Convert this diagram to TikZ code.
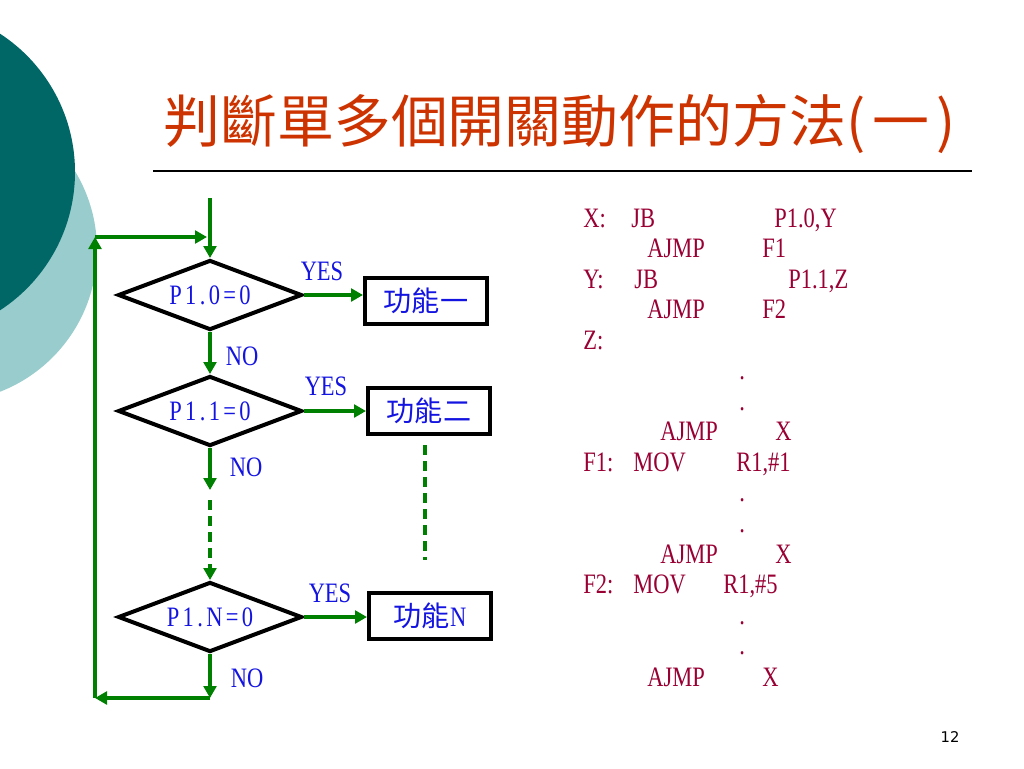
\documentclass[tikz,border=0pt]{standalone}
\usepackage{fontspec}
\setmainfont{Liberation Serif}
\newfontfamily\cjk{Noto Sans CJK TC}
\newfontfamily\codefont[FakeStretch=0.8]{Liberation Serif}
\newfontfamily\condfont[FakeStretch=0.8, LetterSpace=12]{Liberation Serif}
\newfontfamily\pagefont{DejaVu Sans}
\usetikzlibrary{shapes.geometric, arrows.meta}

\definecolor{darkteal}{RGB}{0,102,102}
\definecolor{lightteal}{RGB}{153,204,204}
\definecolor{titlered}{RGB}{204,51,0}
\definecolor{flowgreen}{RGB}{0,128,0}
\definecolor{textblue}{RGB}{20,20,225}
\definecolor{codered}{RGB}{153,0,51}

\tikzset{
    decision/.style={diamond, draw=black, line width=1mm, aspect=2.7, inner sep=0pt,
        minimum width=46mm, minimum height=17.5mm, text=textblue,
        font=\condfont\fontsize{20}{24}\selectfont},
    funbox/.style={draw=black, line width=1mm, inner sep=0pt, minimum width=30.5mm,
        minimum height=11.5mm, text=textblue, font=\cjk\fontsize{20}{24}\selectfont},
    flow/.style={draw=flowgreen, line width=1mm, -{Triangle[length=3mm, width=3.2mm]}},
    flowdash/.style={draw=flowgreen, line width=1mm, dash pattern=on 2.5mm off 1.5mm},
    answer/.style={text=textblue, inner sep=0pt, font=\codefont\fontsize{20}{24}\selectfont},
    code/.style={anchor=base west, inner sep=0pt, text=codered,
        font=\codefont\fontsize{20}{24}\selectfont}
}

\begin{document}
\begin{tikzpicture}[x=0.25mm, y=-0.25mm]
    \useasboundingbox (0,0) rectangle (1024,768);
    % background circles
    \begin{scope}
        \clip (0,0) rectangle (1024,768);
        \fill[lightteal] (-55,250) circle (152);
        \fill[darkteal] (-90,172) circle (165);
    \end{scope}

    % title
    \node[anchor=west, inner sep=0pt, text=titlered, font=\cjk\fontsize{40.5}{44}\selectfont]
        (title) at (163,124) {判斷單多個開關動作的方法(\kern5pt 一\kern5pt)};
    \draw[line width=0.4mm] (153,171) -- (972,171);

    % flowchart
    \node[decision] (dec1) at (210,295) {P1.0=0};
    \node[decision] (dec2) at (210,411) {P1.1=0};
    \node[decision] (decn) at (210,617) {P1.N=0};
    \node[funbox] (fun1) at (426,301) {功能一};
    \node[funbox] (fun2) at (429,411) {功能二};
    \node[funbox] (funn) at (430,616) {功能{\codefont N}};

    \coordinate (start) at (210,198);
    \coordinate (loopin) at (207,237);
    \coordinate (topleft) at (95,237);
    \coordinate (botleft) at (95,698);
    \coordinate (bot) at (210,698);
    \coordinate (cont) at (210,490);
    \coordinate (gapin) at (210,500);
    \coordinate (moretop) at (425,445);
    \coordinate (morebot) at (425,560);

    \draw[flow] (start) -- (dec1.north);
    \draw[flow] (dec1.south) -- (dec2.north);
    \draw[flow] (dec2.south) -- (cont);
    \draw[flowdash, -{Triangle[length=3mm, width=3.2mm]}] (gapin) -- (decn.north);
    \draw[flowdash] (moretop) -- (morebot);
    \draw[flow] (decn.south) -- (bot);
    \draw[flow] (bot) -- (botleft);
    \draw[flow] (botleft) -- (topleft);
    \draw[flow] (topleft) -- (loopin);

    \draw[flow] (dec1.east) -- (dec1.east -| fun1.west);
    \draw[flow] (dec2.east) -- (dec2.east -| fun2.west);
    \draw[flow] (decn.east) -- (decn.east -| funn.west);

    \node[answer] (yes1) at (322,271) {YES};
    \node[answer] (yes2) at (326,386) {YES};
    \node[answer] (yesn) at (330,593) {YES};
    \node[answer] (no1) at (242,356) {NO};
    \node[answer] (no2) at (246,467) {NO};
    \node[answer] (non) at (247,678) {NO};

    % program listing
    \node[code] (l1a) at (583,227) {X:};
    \node[code] (l1b) at (631,227) {JB};
    \node[code] (l1c) at (774,227) {P1.0,Y};
    \node[code] (l2a) at (647,257) {AJMP};
    \node[code] (l2b) at (762,257) {F1};
    \node[code] (l3a) at (583,288) {Y:};
    \node[code] (l3b) at (634,288) {JB};
    \node[code] (l3c) at (788,288) {P1.1,Z};
    \node[code] (l4a) at (647,318) {AJMP};
    \node[code] (l4b) at (762,318) {F2};
    \node[code] (l5a) at (583,349) {Z:};
    \node[code] (l6a) at (739,379) {.};
    \node[code] (l7a) at (739,410) {.};
    \node[code] (l8a) at (660,440) {AJMP};
    \node[code] (l8b) at (775,440) {X};
    \node[code] (l9a) at (583,471) {F1:};
    \node[code] (l9b) at (633,471) {MOV};
    \node[code] (l9c) at (736,471) {R1,\#1};
    \node[code] (l10a) at (739,501) {.};
    \node[code] (l11a) at (739,532) {.};
    \node[code] (l12a) at (660,563) {AJMP};
    \node[code] (l12b) at (775,563) {X};
    \node[code] (l13a) at (583,593) {F2:};
    \node[code] (l13b) at (633,593) {MOV};
    \node[code] (l13c) at (723,593) {R1,\#5};
    \node[code] (l14a) at (739,624) {.};
    \node[code] (l15a) at (739,654) {.};
    \node[code] (l16a) at (647,686) {AJMP};
    \node[code] (l16b) at (762,686) {X};

    % page number
    \node[inner sep=0pt, font=\pagefont\fontsize{10.5}{12}\selectfont] (page) at (950,737) {12};
\end{tikzpicture}
\end{document}
